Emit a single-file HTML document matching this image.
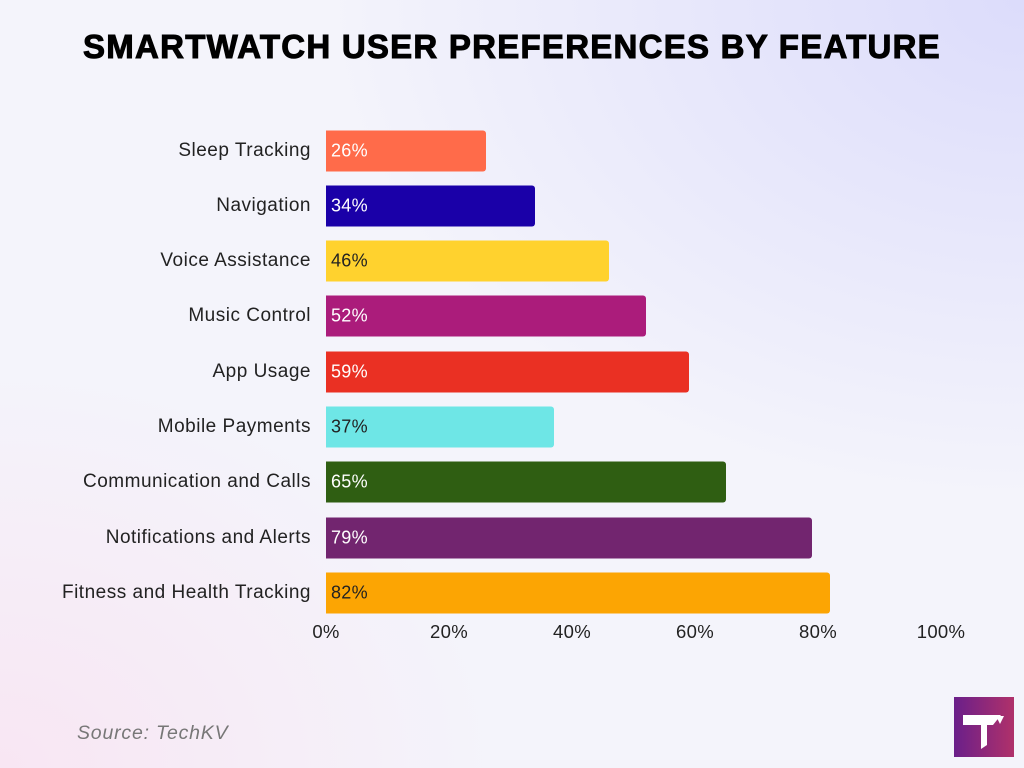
<!DOCTYPE html>
<html><head><style>
body{margin:0;width:1024px;height:768px;overflow:hidden;font-family:"Liberation Sans",sans-serif;
background:radial-gradient(ellipse 700px 500px at 1024px 0px,#dcdcfb 0%,rgba(230,230,250,0) 100%),radial-gradient(ellipse 500px 400px at 0px 768px,#f8e6f3 0%,rgba(248,230,243,0) 100%),#f4f4fb;position:relative}
.t{position:absolute;top:28px;left:0;width:1024px;text-align:center;font-size:33px;font-weight:900;letter-spacing:1.25px;color:#000;-webkit-text-stroke:1px #000}
.lab{position:absolute;right:713px;font-size:19px;letter-spacing:0.5px;color:#222;transform:translateY(-50%);white-space:nowrap}
.bar{position:absolute;left:326px;height:41px;border-radius:0 3px 3px 0;transform:translateY(-50%)}
.v{position:absolute;left:331px;font-size:18px;letter-spacing:0.3px;transform:translateY(-50%)}
.tk{position:absolute;top:621px;font-size:18.5px;letter-spacing:0.3px;color:#222;transform:translateX(-50%)}
.src{position:absolute;left:77px;top:722px;font-style:italic;font-size:19.5px;letter-spacing:0.8px;color:#777}
.logo{position:absolute;left:954px;top:697px;width:60px;height:60px;background:linear-gradient(90deg,#6a1f8a,#b0316a)}
</style></head><body>
<div class="t">SMARTWATCH USER PREFERENCES BY FEATURE</div>
<div id="c"></div>
<script>
var d=[["Sleep Tracking",26,"#ff6b4a","#fff"],["Navigation",34,"#1a00a8","#fff"],["Voice Assistance",46,"#ffd22e","#222"],["Music Control",52,"#ab1c7b","#fff"],["App Usage",59,"#ea3023","#fff"],["Mobile Payments",37,"#6ee6e6","#222"],["Communication and Calls",65,"#2f5e12","#fff"],["Notifications and Alerts",79,"#72256f","#fff"],["Fitness and Health Tracking",82,"#fca503","#222"]];
var h="";d.forEach(function(r,i){var y=150.5+i*55.3;
h+='<div class="lab" style="top:'+y+'px">'+r[0]+'</div><div class="bar" style="top:'+y+'px;width:'+(r[1]*6.15)+'px;background:'+r[2]+'"></div><div class="v" style="top:'+y+'px;color:'+r[3]+'">'+r[1]+'%</div>';});
for(var k=0;k<=5;k++)h+='<div class="tk" style="left:'+(326+k*123)+'px">'+(k*20)+'%</div>';
document.getElementById("c").innerHTML=h;
</script>
<div class="src">Source: TechKV</div>
<div class="logo"><svg width="60" height="60"><path d="M9 18 H47 L39 28 H33 V48 L27 52 V28 H9 Z" fill="#fff"/><path d="M42 19 L50 19 L46 27 Z" fill="#fff"/></svg></div>
</body></html>
